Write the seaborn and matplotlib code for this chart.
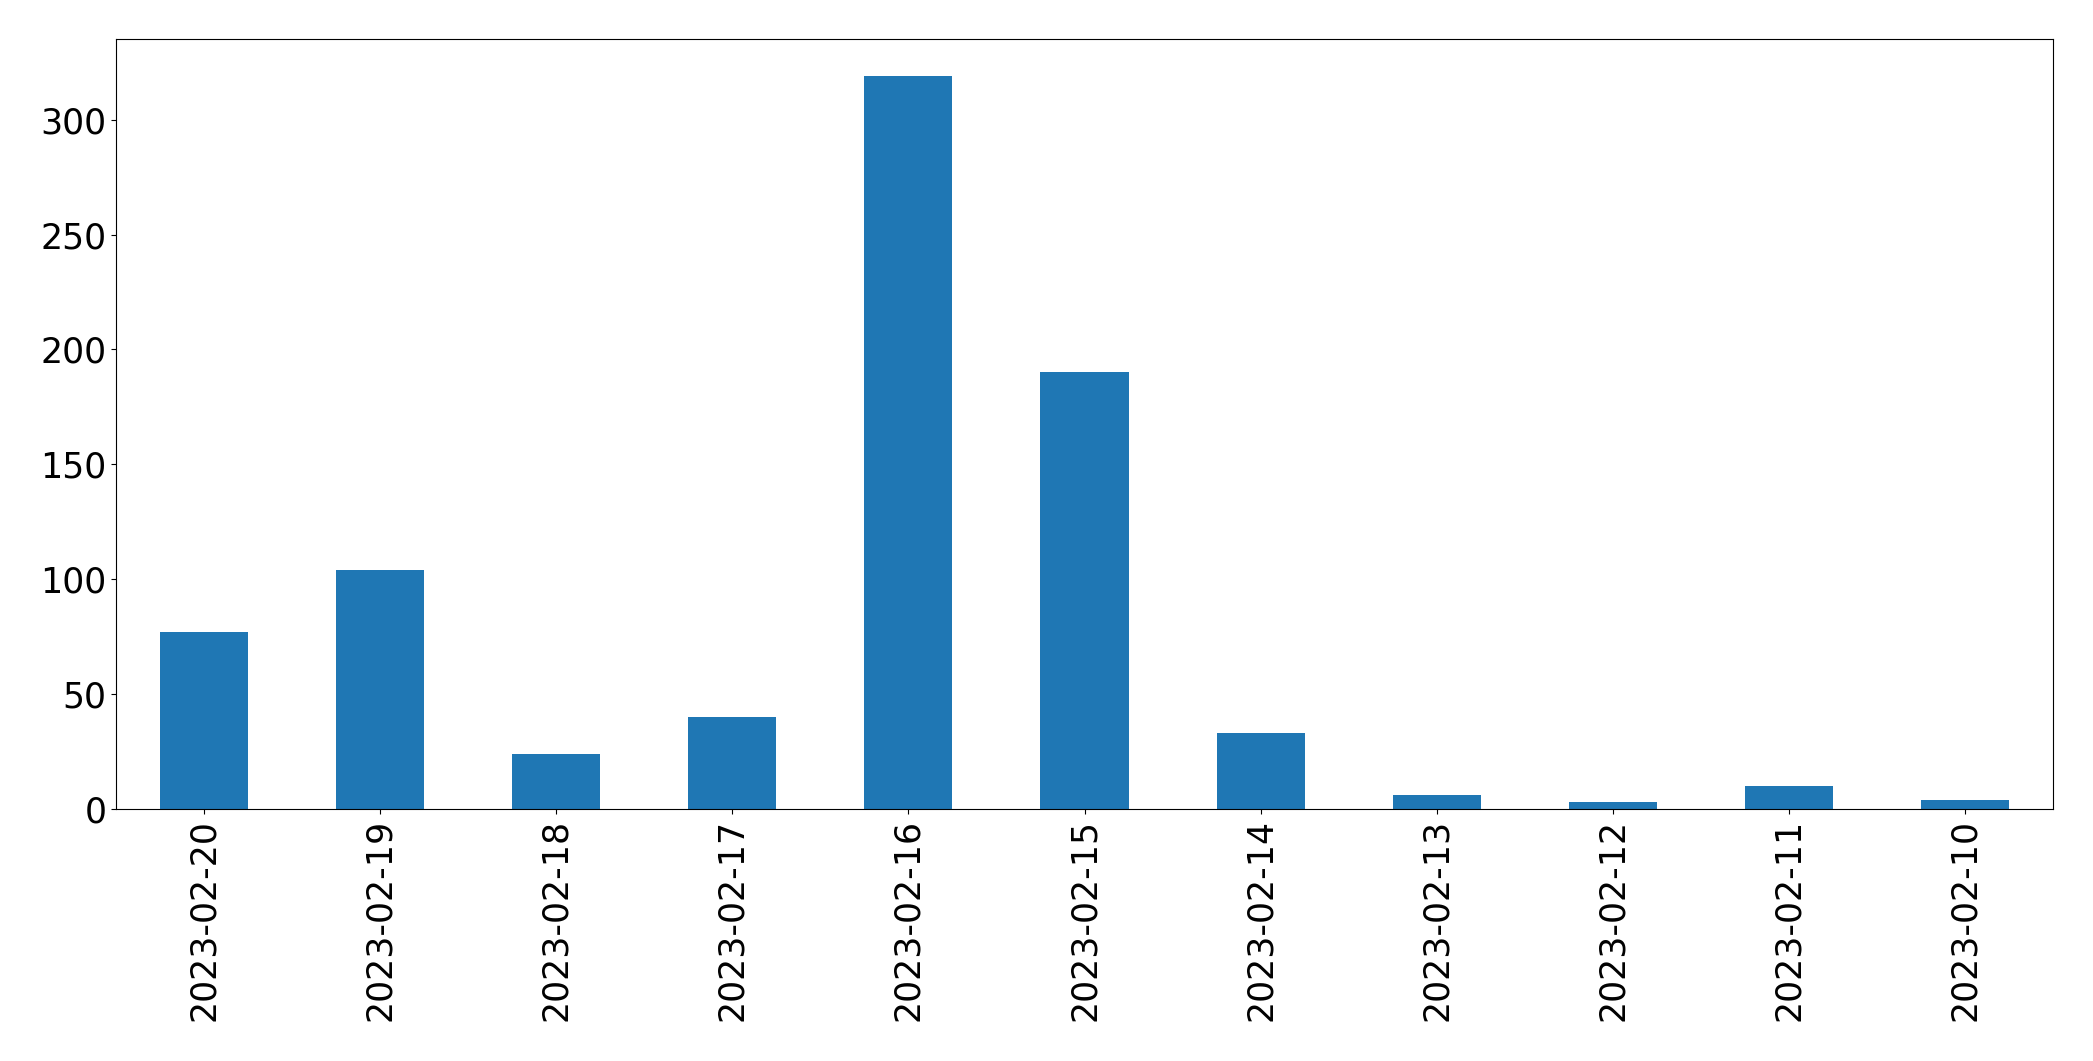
import matplotlib
matplotlib.use("Agg")
import matplotlib.pyplot as plt
import seaborn as sns
import pandas as pd

dates = ["2023-02-20", "2023-02-19", "2023-02-18", "2023-02-17", "2023-02-16",
         "2023-02-15", "2023-02-14", "2023-02-13", "2023-02-12", "2023-02-11",
         "2023-02-10"]
counts = [77, 104, 24, 40, 319, 190, 33, 6, 3, 10, 4]

df = pd.DataFrame({"date": dates, "count": counts})

fig = plt.figure(figsize=(20.93, 10.61), dpi=100)
ax = fig.add_axes([116 / 2093, 1 - 809 / 1061, (2053 - 116) / 2093, (809 - 39.3) / 1061])
sns.barplot(data=df, x="date", y="count", order=dates, color="#1f77b4",
            saturation=1, width=0.5, ax=ax, errorbar=None, linewidth=0)
ax.set_xlim(-0.5, len(dates) - 0.5)
ax.set_ylim(0, max(counts) * 1.05)
ax.set_xlabel("")
ax.set_ylabel("")
ax.tick_params(axis="both", labelsize=25)
ax.tick_params(axis="x", labelrotation=90)
for s in ax.spines.values():
    s.set_color("black")
fig.savefig("out.png", dpi=100)
